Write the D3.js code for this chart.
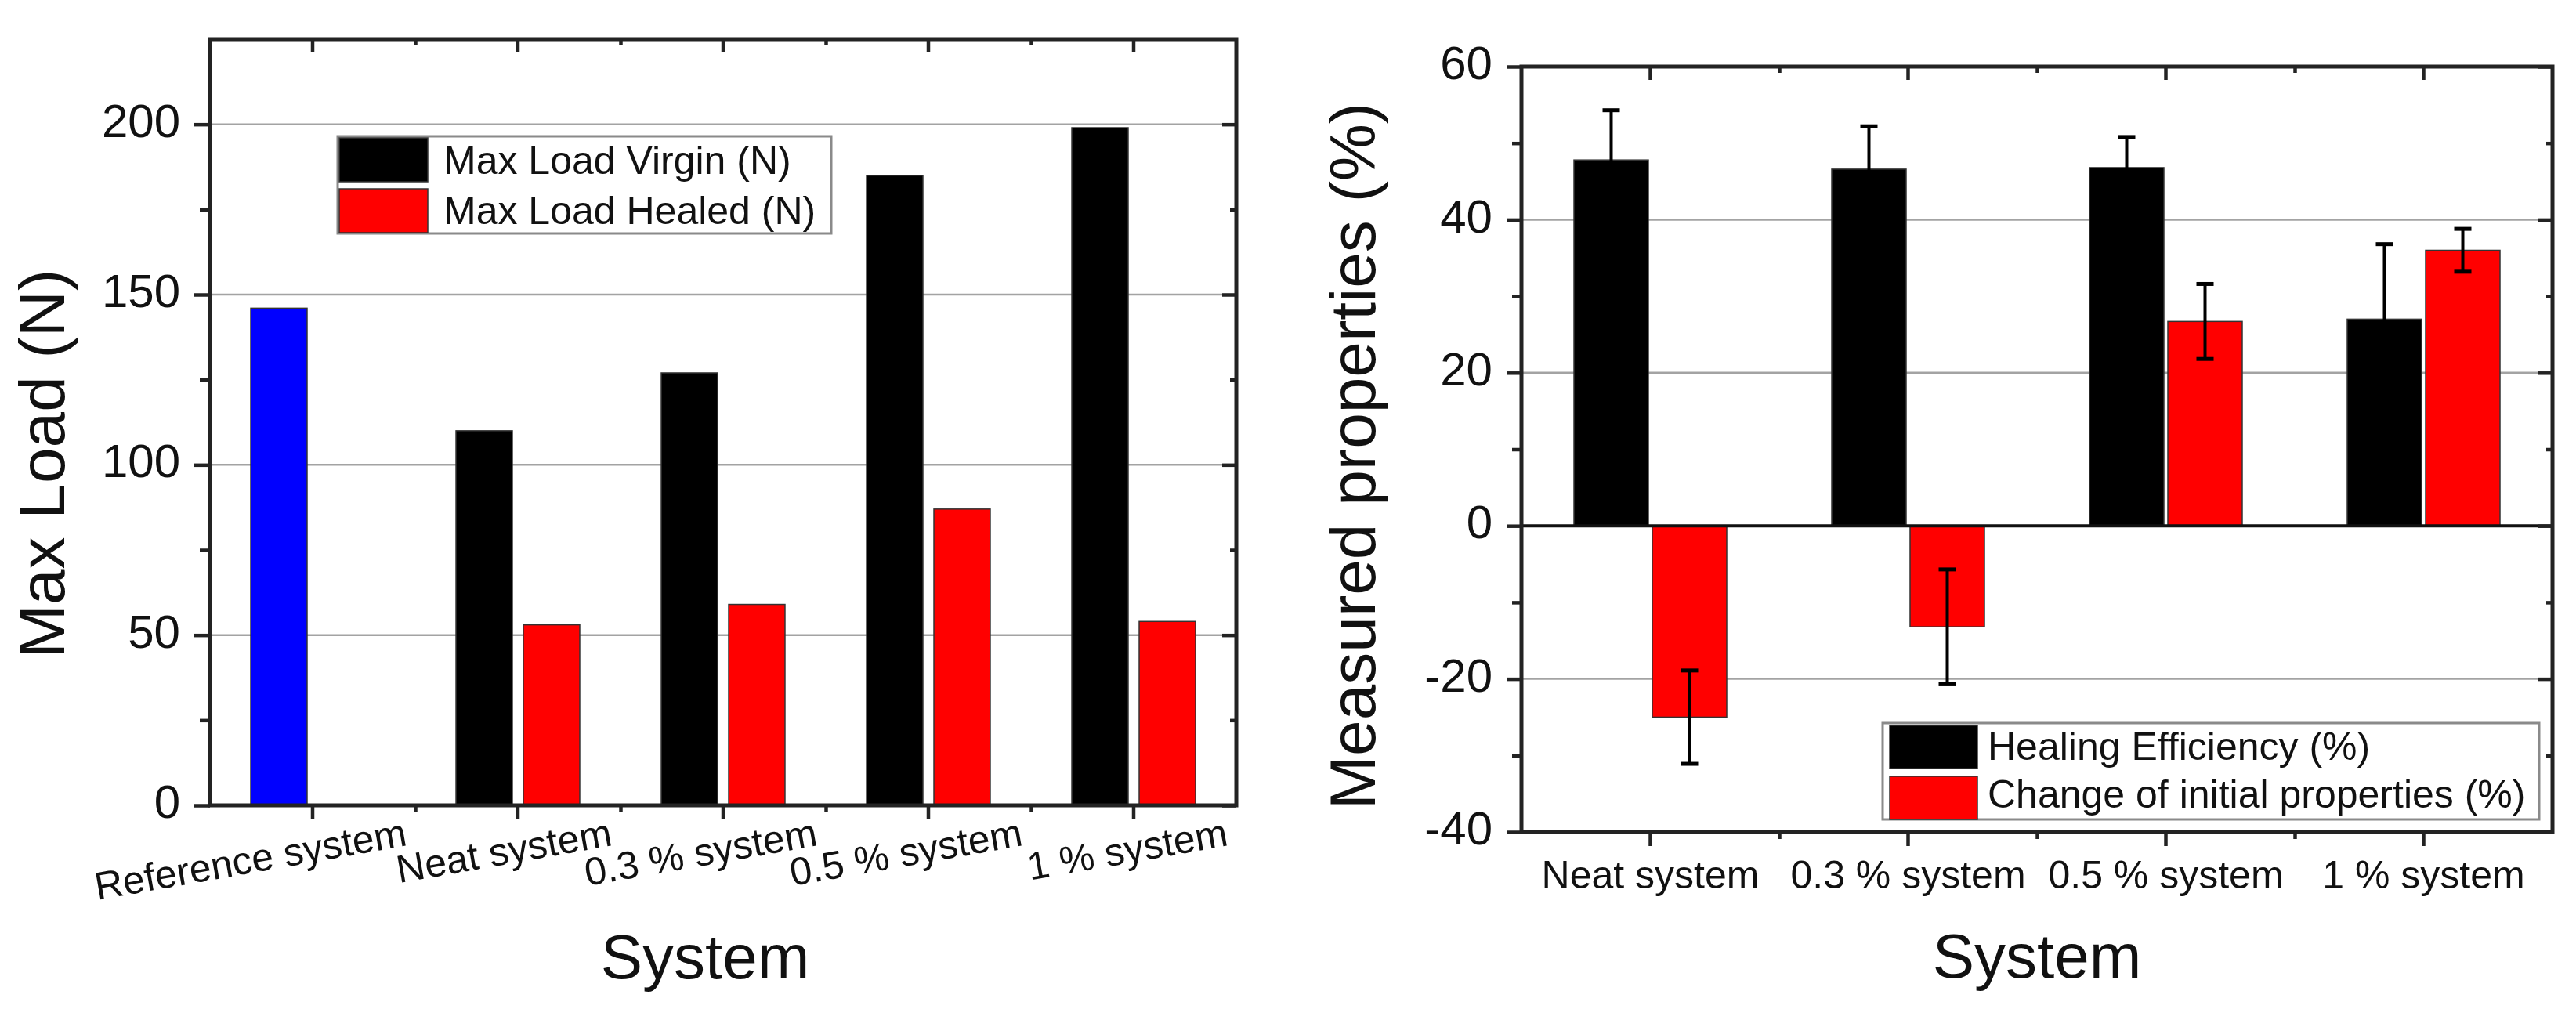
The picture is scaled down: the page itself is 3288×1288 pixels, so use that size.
<!DOCTYPE html>
<html>
<head>
<meta charset="utf-8">
<script src="https://cdn.jsdelivr.net/npm/d3@7"></script>
<style>
  html, body { margin: 0; padding: 0; background: #fff; }
  text { font-family: "Liberation Sans", Arial, Helvetica, sans-serif; fill: #111; }
</style>
</head>
<body>
<script>
// ---------------- DATA ----------------
const loadCategories = ["Reference system", "Neat system", "0.3 % system", "0.5 % system", "1 % system"];
const loadSeries = ["Max Load Virgin (N)", "Max Load Healed (N)"];
const maxLoadVirgin = [146, 110, 127, 185, 199];
const maxLoadHealed = [null, 53, 59, 87, 54];
const loadTicks = [0, 50, 100, 150, 200];
const loadMinorTicks = [25, 75, 125, 175];

const propCategories = ["Neat system", "0.3 % system", "0.5 % system", "1 % system"];
const propSeries = ["Healing Efficiency (%)", "Change of initial properties (%)"];
const healingEfficiency = [47.8, 46.6, 46.8, 27.0];
const healingEfficiencyErr = [6.5, 5.6, 4.0, 9.8];
const changeInitial = [-25.0, -13.2, 26.7, 36.0];
const changeInitialErr = [6.1, 7.5, 4.9, 2.8];
const propTicks = [-40, -20, 0, 20, 40, 60];
const propMinorTicks = [-30, -10, 10, 30, 50];

// ---------------- SETUP ----------------
const W = 3288, H = 1288;
const svg = d3.select("body").append("svg").attr("width", W).attr("height", H)
  .style("display", "block").style("background", "#fff");

const AXIS = "#232323", GRID = "#a3a3a3";

function styleAxis(g) {
  g.select(".domain").remove();
  g.selectAll(".tick line").attr("stroke", AXIS).attr("stroke-width", 4.5);
}

function frame(b) {
  svg.append("rect").attr("x", b.x0).attr("y", b.y0)
    .attr("width", b.x1 - b.x0).attr("height", b.y1 - b.y0)
    .attr("fill", "none").attr("stroke", AXIS).attr("stroke-width", 5);
}

function legend(box, sw, textX, items) {
  svg.append("rect").attr("x", box.x).attr("y", box.y).attr("width", box.w).attr("height", box.h)
    .attr("fill", "#fff").attr("stroke", "#8a8a8a").attr("stroke-width", 3);
  items.forEach((it, i) => {
    svg.append("rect").attr("x", sw.x).attr("y", sw.ys[i]).attr("width", sw.w).attr("height", sw.h)
      .attr("fill", it.color).attr("stroke", "#333").attr("stroke-width", 1.5);
    svg.append("text").attr("x", textX).attr("y", it.baseline)
      .attr("font-size", 50).text(it.label);
  });
}

// ================= LEFT CHART =================
const L = { x0: 268, x1: 1578, y0: 50, y1: 1028 };
const xL = d3.scaleBand().domain(loadCategories).range([L.x0, L.x1]).padding(0);
const xLsub = d3.scaleBand().domain(loadSeries).range([0, xL.bandwidth()])
  .paddingInner(0.163).paddingOuter(0.605);
const xLidx = d3.scaleLinear().domain([0, loadCategories.length]).range([L.x0, L.x1]);
const yL = d3.scaleLinear().domain([0, 225]).range([L.y1, L.y0]);

// grid
svg.append("g").selectAll("line").data(loadTicks.filter(d => d > 0)).join("line")
  .attr("x1", L.x0).attr("x2", L.x1).attr("y1", d => yL(d)).attr("y2", d => yL(d))
  .attr("stroke", GRID).attr("stroke-width", 2.5);

// bars
const loadBars = [];
loadCategories.forEach((c, i) => {
  if (maxLoadVirgin[i] != null) loadBars.push({ c, s: loadSeries[0], v: maxLoadVirgin[i], color: i === 0 ? "#0000ff" : "#000" });
  if (maxLoadHealed[i] != null) loadBars.push({ c, s: loadSeries[1], v: maxLoadHealed[i], color: "#ff0000" });
});
svg.append("g").selectAll("rect").data(loadBars).join("rect")
  .attr("x", d => xL(d.c) + xLsub(d.s)).attr("width", xLsub.bandwidth())
  .attr("y", d => yL(d.v)).attr("height", d => yL(0) - yL(d.v))
  .attr("fill", d => d.color).attr("stroke", "#333").attr("stroke-width", 1.5);

frame(L);

// left axis
svg.append("g").attr("transform", `translate(${L.x0},0)`)
  .call(d3.axisLeft(yL).tickValues(loadTicks).tickSize(20).tickPadding(18).tickFormat(d => String(d)))
  .call(styleAxis)
  .call(g => g.selectAll("text").attr("font-size", 60).attr("dy", "0.26em").attr("fill", "#111")
    .style("font-family", '"Liberation Sans", Arial, sans-serif'));
svg.append("g").attr("transform", `translate(${L.x0},0)`)
  .call(d3.axisLeft(yL).tickValues(loadMinorTicks).tickSize(13).tickFormat(""))
  .call(styleAxis);
// right mirror (inward)
svg.append("g").attr("transform", `translate(${L.x1},0)`)
  .call(d3.axisLeft(yL).tickValues(loadTicks).tickSize(18).tickFormat("")).call(styleAxis);
svg.append("g").attr("transform", `translate(${L.x1},0)`)
  .call(d3.axisLeft(yL).tickValues(loadMinorTicks).tickSize(8).tickFormat("")).call(styleAxis);
// top mirror (inward)
svg.append("g").attr("transform", `translate(0,${L.y0})`)
  .call(d3.axisBottom(xL).tickSize(17).tickFormat("")).call(styleAxis);
svg.append("g").attr("transform", `translate(0,${L.y0})`)
  .call(d3.axisBottom(xLidx).tickValues(d3.range(1, loadCategories.length)).tickSize(8).tickFormat("")).call(styleAxis);
// bottom
svg.append("g").attr("transform", `translate(0,${L.y1})`)
  .call(d3.axisBottom(xL).tickSize(18))
  .call(styleAxis)
  .call(g => g.selectAll("text")
    .attr("x", 0).attr("y", 0).attr("dy", null)
    .attr("text-anchor", "end").attr("font-size", 50).attr("fill", "#111")
    .style("font-family", '"Liberation Sans", Arial, sans-serif')
    .attr("transform", "translate(122,51) rotate(-10)"));
svg.append("g").attr("transform", `translate(0,${L.y1})`)
  .call(d3.axisBottom(xLidx).tickValues(d3.range(1, loadCategories.length)).tickSize(9).tickFormat("")).call(styleAxis);

// titles
svg.append("text").attr("transform", "translate(82,592) rotate(-90)")
  .attr("text-anchor", "middle").attr("font-size", 82).text("Max Load (N)");
svg.append("text").attr("x", 900).attr("y", 1249)
  .attr("text-anchor", "middle").attr("font-size", 80).text("System");

legend({ x: 431, y: 174, w: 630, h: 124 }, { x: 433, ys: [176, 241], w: 113, h: 56 }, 566,
  [{ label: loadSeries[0], color: "#000", baseline: 222 },
   { label: loadSeries[1], color: "#ff0000", baseline: 286 }]);

// ================= RIGHT CHART =================
const R = { x0: 1942, x1: 3258, y0: 85, y1: 1062 };
const xR = d3.scaleBand().domain(propCategories).range([R.x0, R.x1]).padding(0);
const xRsub = d3.scaleBand().domain(propSeries).range([0, xR.bandwidth()])
  .paddingInner(0.05).paddingOuter(0.67);
const xRidx = d3.scaleLinear().domain([0, propCategories.length]).range([R.x0, R.x1]);
const yR = d3.scaleLinear().domain([-40, 60]).range([R.y1, R.y0]);

svg.append("g").selectAll("line").data(propTicks.filter(d => d !== 0 && d > -40 && d < 60)).join("line")
  .attr("x1", R.x0).attr("x2", R.x1).attr("y1", d => yR(d)).attr("y2", d => yR(d))
  .attr("stroke", GRID).attr("stroke-width", 2.5);

const propBars = [];
propCategories.forEach((c, i) => {
  propBars.push({ c, s: propSeries[0], v: healingEfficiency[i], e: healingEfficiencyErr[i], color: "#000" });
  propBars.push({ c, s: propSeries[1], v: changeInitial[i], e: changeInitialErr[i], color: "#ff0000" });
});
svg.append("g").selectAll("rect").data(propBars).join("rect")
  .attr("x", d => xR(d.c) + xRsub(d.s)).attr("width", xRsub.bandwidth())
  .attr("y", d => yR(Math.max(0, d.v))).attr("height", d => Math.abs(yR(d.v) - yR(0)))
  .attr("fill", d => d.color).attr("stroke", "#333").attr("stroke-width", 1.5);

// zero line
svg.append("line").attr("x1", R.x0).attr("x2", R.x1).attr("y1", yR(0)).attr("y2", yR(0))
  .attr("stroke", "#111").attr("stroke-width", 4);

// error bars
const eb = svg.append("g").attr("stroke", "#000").attr("stroke-width", 4);
const cx = d => xR(d.c) + xRsub(d.s) + xRsub.bandwidth() / 2;
eb.selectAll(".stem").data(propBars).join("line")
  .attr("x1", cx).attr("x2", cx).attr("y1", d => yR(d.v - d.e)).attr("y2", d => yR(d.v + d.e));
eb.selectAll(".capTop").data(propBars).join("line")
  .attr("x1", d => cx(d) - 11).attr("x2", d => cx(d) + 11)
  .attr("y1", d => yR(d.v + d.e)).attr("y2", d => yR(d.v + d.e)).attr("stroke-width", 5);
eb.selectAll(".capBot").data(propBars).join("line")
  .attr("x1", d => cx(d) - 11).attr("x2", d => cx(d) + 11)
  .attr("y1", d => yR(d.v - d.e)).attr("y2", d => yR(d.v - d.e)).attr("stroke-width", 5);

frame(R);

svg.append("g").attr("transform", `translate(${R.x0},0)`)
  .call(d3.axisLeft(yR).tickValues(propTicks).tickSize(19).tickPadding(18).tickFormat(d => String(d)))
  .call(styleAxis)
  .call(g => g.selectAll("text").attr("font-size", 60).attr("dy", "0.26em").attr("fill", "#111")
    .style("font-family", '"Liberation Sans", Arial, sans-serif'));
svg.append("g").attr("transform", `translate(${R.x0},0)`)
  .call(d3.axisLeft(yR).tickValues(propMinorTicks).tickSize(12).tickFormat("")).call(styleAxis);
svg.append("g").attr("transform", `translate(${R.x1},0)`)
  .call(d3.axisLeft(yR).tickValues(propTicks).tickSize(18).tickFormat("")).call(styleAxis);
svg.append("g").attr("transform", `translate(${R.x1},0)`)
  .call(d3.axisLeft(yR).tickValues(propMinorTicks).tickSize(8).tickFormat("")).call(styleAxis);
svg.append("g").attr("transform", `translate(0,${R.y0})`)
  .call(d3.axisBottom(xR).tickSize(17).tickFormat("")).call(styleAxis);
svg.append("g").attr("transform", `translate(0,${R.y0})`)
  .call(d3.axisBottom(xRidx).tickValues(d3.range(1, propCategories.length)).tickSize(8).tickFormat("")).call(styleAxis);
svg.append("g").attr("transform", `translate(0,${R.y1})`)
  .call(d3.axisBottom(xR).tickSize(18))
  .call(styleAxis)
  .call(g => g.selectAll("text")
    .attr("y", 72).attr("dy", null).attr("font-size", 50).attr("fill", "#111")
    .style("font-family", '"Liberation Sans", Arial, sans-serif'));
svg.append("g").attr("transform", `translate(0,${R.y1})`)
  .call(d3.axisBottom(xRidx).tickValues(d3.range(1, propCategories.length)).tickSize(9).tickFormat("")).call(styleAxis);

svg.append("text").attr("transform", "translate(1755,582) rotate(-90)")
  .attr("text-anchor", "middle").attr("font-size", 82).text("Measured properties (%)");
svg.append("text").attr("x", 2600).attr("y", 1248)
  .attr("text-anchor", "middle").attr("font-size", 80).text("System");

legend({ x: 2403, y: 923, w: 838, h: 123 }, { x: 2412, ys: [926, 991], w: 112, h: 55 }, 2537,
  [{ label: propSeries[0], color: "#000", baseline: 970 },
   { label: propSeries[1], color: "#ff0000", baseline: 1031 }]);
</script>
</body>
</html>
